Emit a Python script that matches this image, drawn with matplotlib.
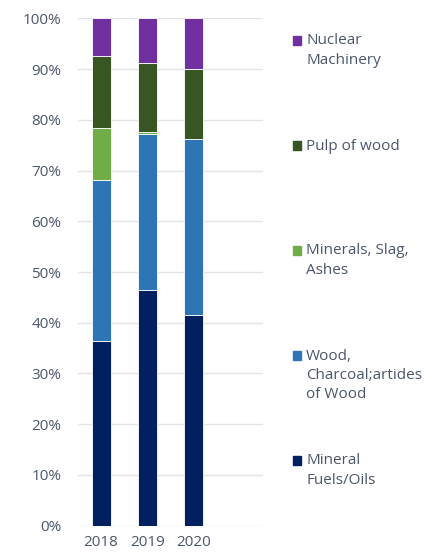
import matplotlib
matplotlib.use("Agg")
import matplotlib.pyplot as plt
import matplotlib.ticker as mtick
from matplotlib.patches import Rectangle

years = ['2018', '2019', '2020']
categories = ['Mineral\nFuels/Oils', 'Wood,\nCharcoal;artides\nof Wood',
              'Minerals, Slag,\nAshes', 'Pulp of wood', 'Nuclear\nMachinery']
mineral_fuels = [36.4, 46.5, 41.5]
wood = [31.7, 30.8, 34.7]
minerals = [10.3, 0.3, 0.0]
pulp = [14.2, 13.6, 13.9]
nuclear = [7.4, 8.8, 9.9]
colors = ['#002060', '#2E75B6', '#70AD47', '#375623', '#7030A0']

text_col = '#4a566b'
plt.rcParams['font.family'] = ['Open Sans', 'DejaVu Sans']

fig = plt.figure(figsize=(4.45, 5.56), dpi=100)
ax = fig.add_axes([0.175, 0.0545, 0.416, 0.9125])

series = [mineral_fuels, wood, minerals, pulp, nuclear]
bottom = [0, 0, 0]
for vals, col in zip(series, colors):
    ax.bar(range(len(years)), vals, bottom=bottom, width=0.41, color=col,
           edgecolor='white', linewidth=0.6, zorder=3)
    bottom = [b + v for b, v in zip(bottom, vals)]

ax.set_xlim(-0.5, 3.5)
ax.set_ylim(0, 100)
ax.set_yticks(range(0, 101, 10))
ax.yaxis.set_major_formatter(mtick.PercentFormatter(decimals=0))
ax.set_xticks(range(len(years)))
ax.set_xticklabels(years)
ax.grid(axis='y', color='#e1e3ea', linewidth=1, zorder=0)
for s in ax.spines.values():
    s.set_visible(False)
ax.tick_params(length=0, labelsize=11, colors=text_col)
ax.tick_params(axis='y', pad=12)
ax.tick_params(axis='x', pad=7)

# legend, top entry first, like the original
y0 = 1 - 40.5 / 556
step = 105 / 556
for i, (lab, col) in enumerate(zip(categories[::-1], colors[::-1])):
    y = y0 - i * step
    fig.patches.append(Rectangle((293 / 445, y - 4.5 / 556), 8 / 445, 9 / 556,
                                 transform=fig.transFigure, color=col))
    fig.text(306 / 445, y + 7 / 556, lab, va='top', ha='left', fontsize=11,
             color=text_col, linespacing=1.4)

fig.savefig('out.png', dpi=100)
